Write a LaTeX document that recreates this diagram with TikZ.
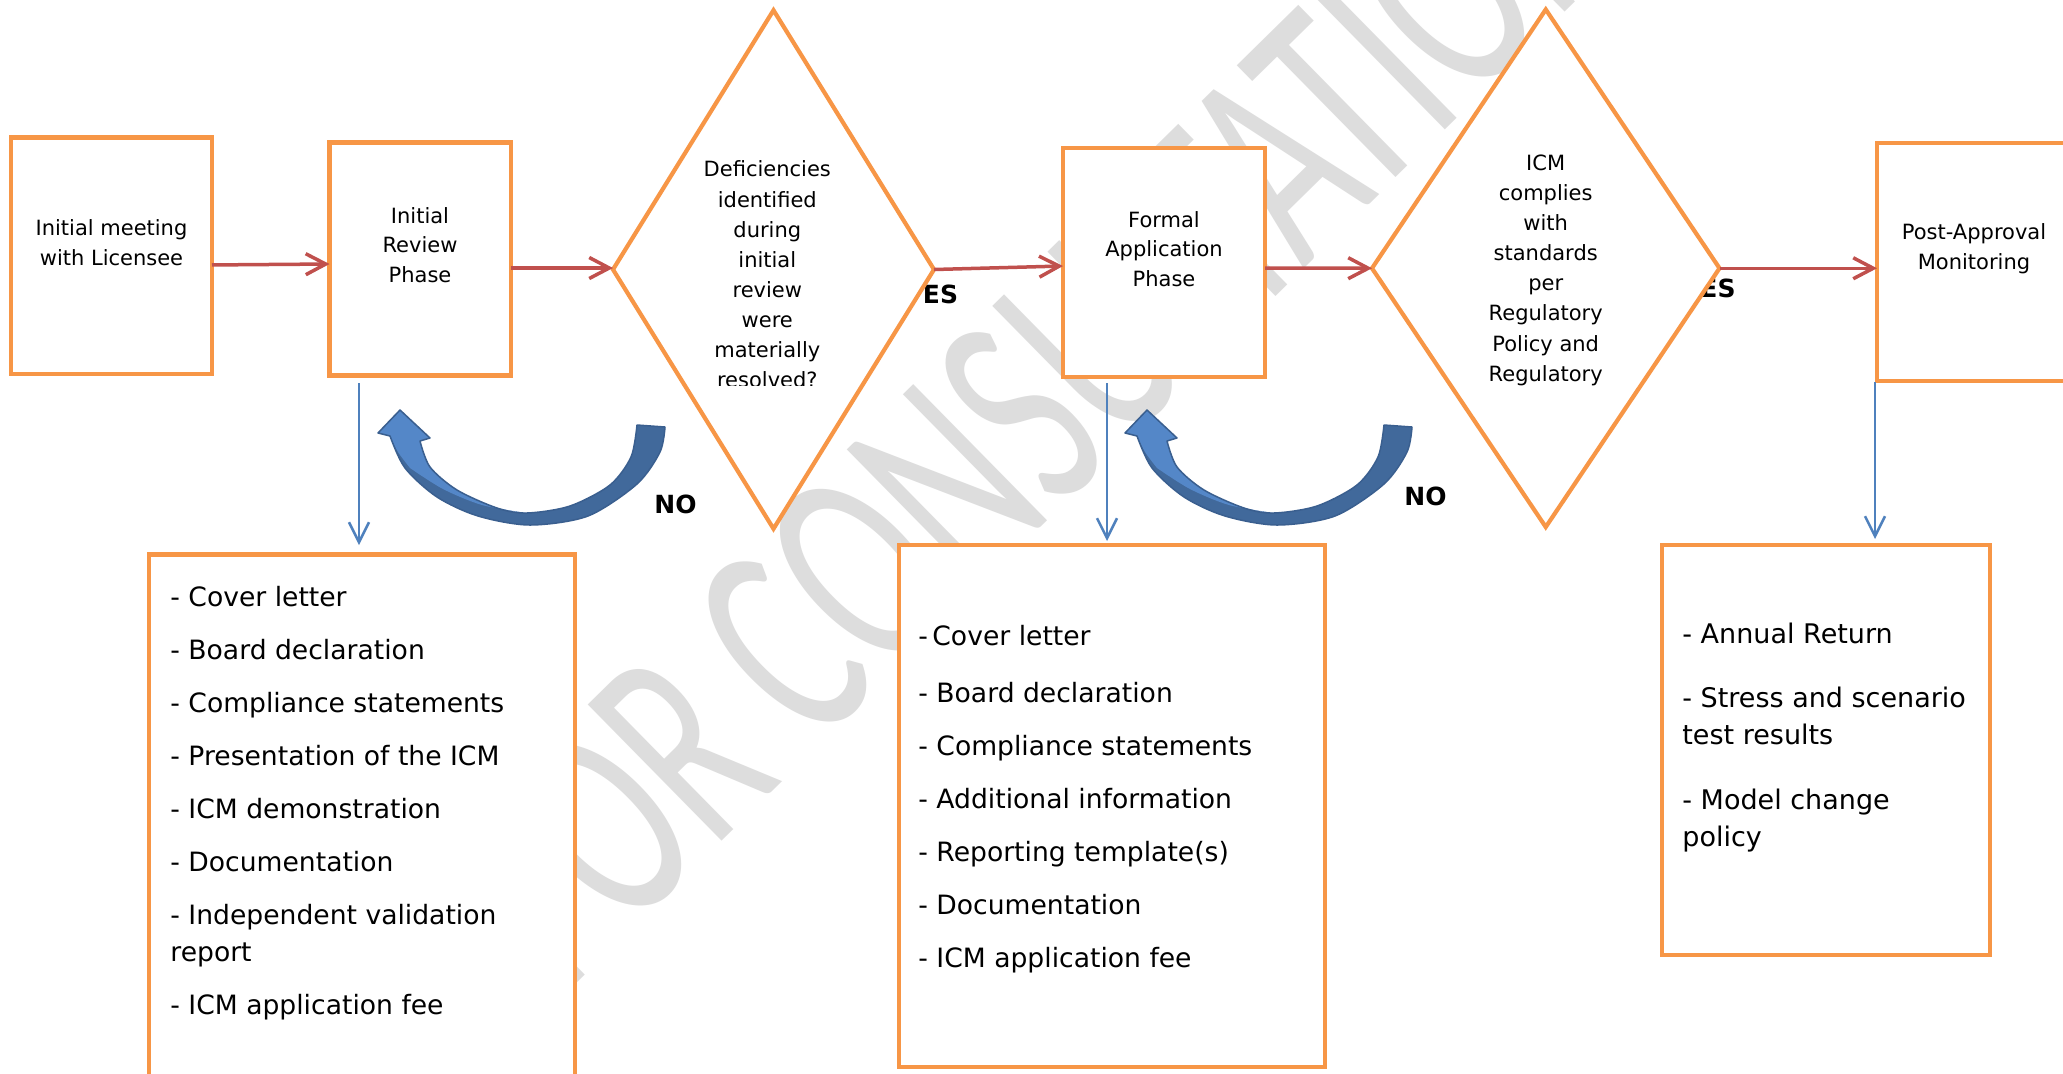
\documentclass[tikz,border=0pt]{standalone}
\usepackage{fontspec}
\setmainfont{DejaVu Sans}
\newfontfamily\wmfont{Carlito}
\usetikzlibrary{arrows.meta,shapes.geometric}
\definecolor{orng}{HTML}{F79646}
\definecolor{redl}{HTML}{C0504D}
\definecolor{bluel}{HTML}{4F81BD}
\definecolor{arrlight}{HTML}{5487C8}
\definecolor{arrdark}{HTML}{41699B}
\definecolor{arrline}{HTML}{3A5F8F}
\definecolor{wmgray}{HTML}{DDDDDD}
\begin{document}
\begin{tikzpicture}[x=0.5pt,y=-0.5pt,
  box/.style={rectangle, draw=orng, line width=2.25pt, fill=white, inner sep=0pt, outer sep=0pt},
  dia/.style={diamond, draw=orng, line width=2.1pt, fill=white, inner sep=0pt, outer sep=0pt},
  lbl/.style={font=\fontsize{10.5}{14.7}\selectfont, align=center, inner sep=0pt},
  dlbl/.style={font=\fontsize{10.5}{15.05}\selectfont, align=center, inner sep=0pt},
  lst/.style={font=\fontsize{13.3}{18.5}\selectfont, align=left, inner sep=0pt, anchor=west},
  yn/.style={font=\fontsize{12.5}{15}\selectfont\bfseries, inner sep=0pt},
  redarr/.style={draw=redl, line width=1.75pt, -{Straight Barb[length=10pt,width=10.5pt]}},
  bluearr/.style={draw=bluel, line width=1.25pt, -{Straight Barb[length=10pt,width=10pt]}},
  wmark/.style={text=wmgray, font=\wmfont\fontsize{93}{93}\selectfont, rotate=44.5, yscale=1.6, inner sep=0pt}
]
\useasboundingbox (0,0) rectangle (2063,1073);
\fill[white] (0,0) rectangle (2063,1073);
\clip (0,0) rectangle (2063,1073);

% watermark
\node[wmark] (wm) at (1036,398) {FOR CONSULTATION};

% YES labels (partly under the diamonds)
\node[yn] (yes1) at (940.5,294) {ES};
\node[yn] (yes2) at (1718,288.5) {ES};

% boxes
\node[box, minimum width=100.5pt, minimum height=118.25pt] (b1) at (111.5,255.75) {};
\node[box, minimum width=90.75pt, minimum height=116.5pt] (b2) at (420.25,259) {};
\node[box, minimum width=101pt, minimum height=114.5pt] (b3) at (1164,262.5) {};
\node[box, minimum width=99pt, minimum height=119pt] (b4) at (1976,262) {};
\node[box, minimum width=213pt, minimum height=267.5pt] (b5) at (362,822) {};
\node[box, minimum width=213pt, minimum height=261pt] (b6) at (1112,806) {};
\node[box, minimum width=164pt, minimum height=205pt] (b7) at (1826,750) {};

% diamonds
\node[dia, minimum width=160.5pt, minimum height=259.25pt] (d1) at (773.5,269.5) {};
\node[dia, minimum width=173.75pt, minimum height=258.75pt] (d2) at (1545.75,268.25) {};

% texts
\node[lbl] (t1) at (111.5,242.5) {Initial meeting\\with Licensee};
\node[lbl] (t2) at (420,245) {Initial\\Review\\Phase};
\node[lbl] (t3) at (1164,249.1) {Formal\\Application\\Phase};
\node[lbl] (t4) at (1974,248.5) {Post-Approval\\Monitoring};
\begin{scope}
\clip (620,0) rectangle (930,385);
\node[dlbl] (td1) at (767.3,274.5) {Deficiencies\\identified\\during\\initial\\review\\were\\materially\\resolved?};
\end{scope}
\node[dlbl] (td2) at (1545.7,270.2) {ICM\\complies\\with\\standards\\per\\Regulatory\\Policy and\\Regulatory};

\node[lst] (l5) at (170,803.3) {- Cover letter\\[8pt]
- Board declaration\\[8pt]
- Compliance statements\\[8pt]
- Presentation of the ICM\\[8pt]
- ICM demonstration\\[8pt]
- Documentation\\[8pt]
- Independent validation\\
report\\[8pt]
- ICM application fee};
\node[lst] (l6) at (918,799.3) {-\,Cover letter\\[10.25pt]
- Board declaration\\[8pt]
- Compliance statements\\[8pt]
- Additional information\\[8pt]
- Reporting template(s)\\[8pt]
- Documentation\\[8pt]
- ICM application fee};
\node[lst, font=\fontsize{13.5}{18.65}\selectfont] (l7) at (1682,737.5) {- Annual Return\\[13.6pt]
- Stress and scenario\\
test results\\[13.6pt]
- Model change\\
policy};

% red flow arrows
\draw[redarr] ([yshift=-4.6pt]b1.east) -- ([yshift=-2.5pt]b2.west);
\draw[redarr] ([yshift=-4.5pt]b2.east) -- ([yshift=0.75pt]d1.west);
\draw[redarr] (d1.east) -- ([yshift=-1.75pt]b3.west);
\draw[redarr] ([yshift=-2.75pt]b3.east) -- (d2.west);
\draw[redarr] (d2.east) -- (b4.west |- d2.east);

% blue down arrows
\coordinate (v1s) at ([xshift=14.75pt,yshift=-3.75pt]b2.south west);
\coordinate (v1e) at (v1s |- b5.north);
\draw[bluearr, shorten >=4.75pt] (v1s) -- (v1e);
\coordinate (v2s) at ([xshift=22pt,yshift=-3pt]b3.south west);
\coordinate (v2e) at (v2s |- b6.north);
\draw[bluearr, shorten >=2pt] (v2s) -- (v2e);
\coordinate (v3s) at ([xshift=-1pt,yshift=-0.5pt]b4.south west);
\coordinate (v3e) at (v3s |- b7.north);
\draw[bluearr, shorten >=3pt] (v3s) -- (v3e);

% curved NO arrows
\foreach \s in {0,747}{
\begin{scope}[shift={(\s,0)}]
\fill[arrdark]
 (400,410) -- (430,438) -- (420,441)
 -- plot[smooth] coordinates {(420,441) (430,467) (457,490) (497,508) (527,513) (570,506) (610,485) (631,457) (637,425)}
 -- (665,427)
 -- plot[smooth] coordinates {(665,427) (660,452) (637,484) (588,516) (530,525) (478,516) (437,497) (405,468) (390,436)}
 -- (378,433) -- cycle;
\fill[arrlight]
 (400,410) -- (430,438) -- (420,441)
 -- plot[smooth] coordinates {(420,441) (430,467) (457,490) (497,508) (527,513)}
 -- plot[smooth] coordinates {(527,513) (482,505) (443,489) (410,468)}
 -- plot[smooth] coordinates {(410,468) (398,452) (390,436)}
 -- (378,433) -- cycle;
\draw[arrline, line width=0.75pt, line join=round]
 (400,410) -- (430,438) -- (420,441)
 -- plot[smooth] coordinates {(420,441) (430,467) (457,490) (497,508) (527,513) (570,506) (610,485) (631,457) (637,425)}
 -- (665,427)
 -- plot[smooth] coordinates {(665,427) (660,452) (637,484) (588,516) (530,525) (478,516) (437,497) (405,468) (390,436)}
 -- (378,433) -- cycle;
\end{scope}
}

% NO labels
\node[yn] (no1) at (675.5,504) {NO};
\node[yn] (no2) at (1425.5,496.5) {NO};
\end{tikzpicture}
\end{document}
